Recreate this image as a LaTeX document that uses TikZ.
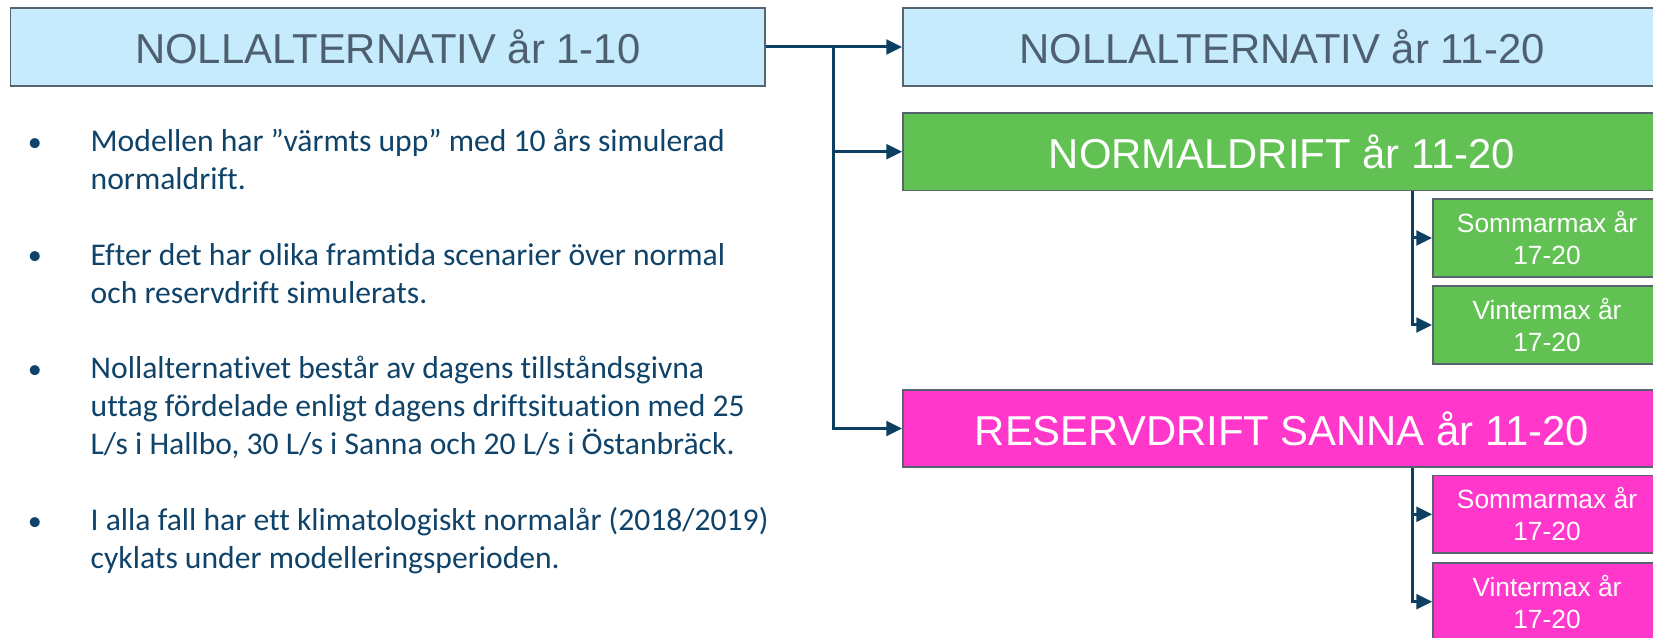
\documentclass[tikz,border=0pt]{standalone}
\usepackage{fontspec}
\setmainfont{Carlito}[Ligatures=NoCommon]
\newfontfamily\arialfont{Liberation Sans}
\usepackage{xcolor}
\usepackage{tikz}
\usetikzlibrary{positioning,calc,arrows.meta}

\definecolor{nollblue}{HTML}{C6EBFC}
\definecolor{normgreen}{HTML}{62C153}
\definecolor{respink}{HTML}{FF37CB}
\definecolor{slate}{HTML}{4E6070}
\definecolor{edgegray}{HTML}{56646F}
\definecolor{navy}{HTML}{0C3F61}
\definecolor{notetext}{HTML}{0F4369}

\begin{document}
\begin{tikzpicture}[
    titlebox/.style={draw=edgegray, line width=0.5pt, inner sep=0pt,
        minimum height=0.774cm, font=\arialfont\fontsize{11.9}{14}\selectfont},
    subbox/.style={draw=edgegray, line width=0.5pt, inner sep=0pt, align=center,
        minimum width=2.28cm, minimum height=0.774cm, text=white,
        font=\arialfont\fontsize{7.5}{9}\selectfont},
    link/.style={draw=navy, line width=0.85pt, -{Triangle[length=4.5pt,width=4.2pt]}},
    note/.style={anchor=base west, inner sep=0pt, align=left, text=notetext,
        font=\fontsize{9}{10.8}\selectfont},
    dot/.style={anchor=base, inner sep=0pt, text=notetext, font=\fontsize{8}{10.8}\selectfont}
]
    \useasboundingbox (0,0) rectangle (16.53,6.38);
    \clip (0,0) rectangle (16.53,6.38);

    % left box and the three scenarios
    \node[titlebox, fill=nollblue, text=slate, minimum width=7.545cm] (a) at (3.8775,5.91) {NOLLALTERNATIV år 1-10};
    \node[titlebox, fill=nollblue, text=slate, minimum width=7.58cm] (b) at (12.82,5.91) {NOLLALTERNATIV år 11-20};
    \node[titlebox, fill=normgreen, text=white, minimum width=7.58cm] (c) at (12.82,4.863) {NORMALDRIFT år 11-20};
    \node[titlebox, fill=respink, text=white, minimum width=7.58cm] (d) at (12.82,2.095) {RESERVDRIFT SANNA år 11-20};

    % max years under each scenario
    \node[subbox, fill=normgreen] (sg1) at (15.47,4.00) {Sommarmax år\\17-20};
    \node[subbox, fill=normgreen] (sg2) at (15.47,3.13) {Vintermax år\\17-20};
    \node[subbox, fill=respink] (sp1) at (15.47,1.237) {Sommarmax år\\17-20};
    \node[subbox, fill=respink] (sp2) at (15.47,0.363) {Vintermax år\\17-20};

    % connectors
    \coordinate (j) at ([xshift=-0.69cm]b.west);
    \draw[link] (a.east) -- (b.west);
    \draw[link] (j) |- (c.west);
    \draw[link] (j) |- (d.west);
    \coordinate (cb) at ([xshift=-0.2cm]c.south -| sg1.west);
    \coordinate (db) at ([xshift=-0.2cm]d.south -| sp1.west);
    \draw[link] (cb) |- (sg1.west);
    \draw[link] (cb) |- (sg2.west);
    \draw[link] (db) |- (sp1.west);
    \draw[link] (db) |- (sp2.west);

    % notes on the left (bullet on the first line, text anchored on its last line)
    \foreach \i/\y/\z/\t in {1/4.865/4.484/{Modellen har ”värmts upp” med 10 års simulerad\\normaldrift.},
                          2/3.73/3.349/{Efter det har olika framtida scenarier över normal\\och reservdrift simulerats.},
                          3/2.595/1.833/{Nollalternativet består av dagens tillståndsgivna\\uttag fördelade enligt dagens driftsituation med 25\\L/s i Hallbo, 30 L/s i Sanna och 20 L/s i Östanbräck.},
                          4/1.075/0.694/{I alla fall har ett klimatologiskt normalår (2018/2019)\\cyklats under modelleringsperioden.}} {
        \node[dot] (b\i) at (0.35,\y) {•};
        \node[note] (t\i) at (0.90,\z) {\t};
    }
\end{tikzpicture}
\end{document}
